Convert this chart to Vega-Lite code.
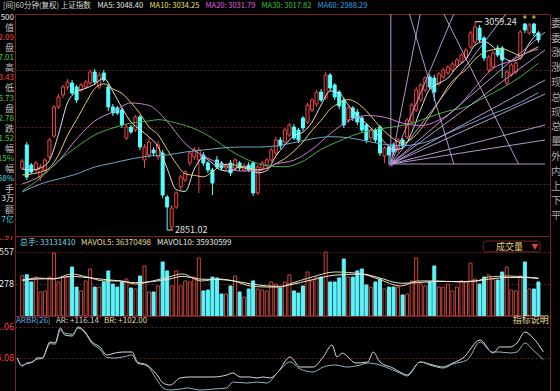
{
"$schema":"https://vega.github.io/schema/vega-lite/v6.json",
"background":"#000000",
"padding":0,
"spacing":0,
"bounds":"flush",
"columns":3,
"config":{"view":{"stroke":"#7a1f1f","strokeWidth":1},"font":"Noto Sans CJK SC","concat":{"spacing":0}},
"resolve":{"scale":{"color":"independent","x":"independent","y":"independent"},"legend":{"color":"independent"}},
"datasets":{
"bars":[
{"i":-1,"o":2913,"c":2920,"h":2922,"l":2911,"v":351},
{"i":0,"o":2936,"c":2904,"h":2939,"l":2901,"v":359},
{"i":1,"o":2916,"c":2909,"h":2918,"l":2907,"v":296},
{"i":2,"o":2911,"c":2918,"h":2920,"l":2908,"v":339},
{"i":3,"o":2904,"c":2914,"h":2917,"l":2900,"v":209},
{"i":4,"o":2911,"c":2921,"h":2923,"l":2909,"v":218},
{"i":5,"o":2924,"c":2941,"h":2943,"l":2922,"v":339},
{"i":6,"o":2945,"c":2974,"h":2976,"l":2943,"v":548},
{"i":7,"o":2974,"c":2984,"h":2987,"l":2972,"v":296},
{"i":8,"o":2986,"c":2994,"h":2996,"l":2983,"v":339},
{"i":9,"o":2994,"c":2999,"h":3002,"l":2991,"v":339},
{"i":10,"o":2998,"c":2988,"h":3001,"l":2986,"v":426},
{"i":11,"o":2994,"c":2981,"h":2996,"l":2978,"v":252},
{"i":12,"o":2991,"c":2996,"h":2998,"l":2989,"v":218},
{"i":13,"o":2994,"c":2999,"h":3001,"l":2992,"v":305},
{"i":14,"o":2998,"c":3009,"h":3011,"l":2996,"v":409},
{"i":15,"o":3009,"c":2999,"h":3012,"l":2996,"v":252},
{"i":16,"o":2994,"c":3006,"h":3009,"l":2992,"v":252},
{"i":17,"o":3008,"c":3001,"h":3011,"l":2999,"v":296},
{"i":18,"o":2994,"c":2974,"h":2997,"l":2970,"v":392},
{"i":19,"o":2974,"c":2968,"h":2977,"l":2965,"v":278},
{"i":20,"o":2973,"c":2968,"h":2975,"l":2966,"v":252},
{"i":21,"o":2971,"c":2956,"h":2973,"l":2953,"v":296},
{"i":22,"o":2943,"c":2954,"h":2957,"l":2941,"v":322},
{"i":23,"o":2954,"c":2949,"h":2956,"l":2947,"v":244},
{"i":24,"o":2951,"c":2964,"h":2966,"l":2949,"v":235},
{"i":25,"o":2964,"c":2934,"h":2966,"l":2931,"v":348},
{"i":26,"o":2921,"c":2934,"h":2937,"l":2913,"v":435},
{"i":27,"o":2926,"c":2939,"h":2943,"l":2923,"v":209},
{"i":28,"o":2931,"c":2928,"h":2934,"l":2925,"v":209},
{"i":29,"o":2924,"c":2936,"h":2940,"l":2921,"v":261},
{"i":30,"o":2928,"c":2886,"h":2931,"l":2883,"v":470},
{"i":31,"o":2884,"c":2874,"h":2886,"l":2851.02,"v":392},
{"i":32,"o":2854,"c":2873,"h":2876,"l":2852,"v":261},
{"i":33,"o":2874,"c":2888,"h":2890,"l":2872,"v":392},
{"i":34,"o":2894,"c":2904,"h":2906,"l":2891,"v":261},
{"i":35,"o":2901,"c":2909,"h":2911,"l":2899,"v":305},
{"i":36,"o":2918,"c":2928,"h":2930,"l":2915,"v":296},
{"i":37,"o":2924,"c":2931,"h":2934,"l":2921,"v":339},
{"i":38,"o":2921,"c":2931,"h":2934,"l":2888,"v":505},
{"i":39,"o":2926,"c":2918,"h":2929,"l":2915,"v":218},
{"i":40,"o":2918,"c":2911,"h":2920,"l":2908,"v":226},
{"i":41,"o":2911,"c":2898,"h":2913,"l":2886,"v":339},
{"i":42,"o":2921,"c":2914,"h":2925,"l":2912,"v":331},
{"i":43,"o":2918,"c":2913,"h":2920,"l":2911,"v":191},
{"i":44,"o":2913,"c":2916,"h":2918,"l":2910,"v":191},
{"i":45,"o":2918,"c":2908,"h":2921,"l":2905,"v":261},
{"i":46,"o":2913,"c":2921,"h":2923,"l":2910,"v":348},
{"i":47,"o":2918,"c":2913,"h":2920,"l":2910,"v":209},
{"i":48,"o":2911,"c":2915,"h":2918,"l":2909,"v":165},
{"i":49,"o":2916,"c":2911,"h":2919,"l":2909,"v":235},
{"i":50,"o":2918,"c":2888,"h":2920,"l":2885,"v":305},
{"i":51,"o":2888,"c":2914,"h":2916,"l":2886,"v":235},
{"i":52,"o":2913,"c":2918,"h":2920,"l":2911,"v":226},
{"i":53,"o":2916,"c":2921,"h":2923,"l":2914,"v":218},
{"i":54,"o":2921,"c":2931,"h":2933,"l":2919,"v":296},
{"i":55,"o":2928,"c":2941,"h":2944,"l":2926,"v":278},
{"i":56,"o":2941,"c":2935,"h":2944,"l":2932,"v":244},
{"i":57,"o":2939,"c":2951,"h":2953,"l":2937,"v":296},
{"i":58,"o":2946,"c":2956,"h":2958,"l":2944,"v":357},
{"i":59,"o":2954,"c":2943,"h":2957,"l":2941,"v":218},
{"i":60,"o":2951,"c":2941,"h":2953,"l":2938,"v":200},
{"i":61,"o":2963,"c":2953,"h":2965,"l":2950,"v":261},
{"i":62,"o":2959,"c":2976,"h":2978,"l":2957,"v":383},
{"i":63,"o":2971,"c":2981,"h":2983,"l":2969,"v":305},
{"i":64,"o":2977,"c":2989,"h":2991,"l":2974,"v":339},
{"i":65,"o":2989,"c":2981,"h":2992,"l":2979,"v":339},
{"i":66,"o":2983,"c":3006,"h":3009,"l":2981,"v":557},
{"i":67,"o":3006,"c":2993,"h":3008,"l":2990,"v":296},
{"i":68,"o":2996,"c":2984,"h":2998,"l":2981,"v":296},
{"i":69,"o":2989,"c":2975,"h":2991,"l":2972,"v":331},
{"i":70,"o":2981,"c":2956,"h":2983,"l":2953,"v":496},
{"i":71,"o":2961,"c":2973,"h":2975,"l":2958,"v":339},
{"i":72,"o":2973,"c":2963,"h":2975,"l":2960,"v":339},
{"i":73,"o":2969,"c":2959,"h":2972,"l":2956,"v":392},
{"i":74,"o":2963,"c":2951,"h":2965,"l":2948,"v":409},
{"i":75,"o":2956,"c":2941,"h":2958,"l":2938,"v":270},
{"i":76,"o":2943,"c":2951,"h":2953,"l":2940,"v":252},
{"i":77,"o":2951,"c":2941,"h":2953,"l":2938,"v":296},
{"i":78,"o":2954,"c":2928,"h":2956,"l":2925,"v":322},
{"i":79,"o":2925,"c":2933,"h":2935,"l":2918,"v":235},
{"i":80,"o":2934,"c":2926,"h":2936,"l":2917,"v":252},
{"i":81,"o":2936,"c":2929,"h":2938,"l":2926,"v":252},
{"i":82,"o":2931,"c":2941,"h":2943,"l":2928,"v":252},
{"i":83,"o":2941,"c":2935,"h":2943,"l":2932,"v":183},
{"i":84,"o":2944,"c":2961,"h":2963,"l":2942,"v":191},
{"i":85,"o":2959,"c":2976,"h":2978,"l":2957,"v":305},
{"i":86,"o":2971,"c":2991,"h":2994,"l":2969,"v":505},
{"i":87,"o":2981,"c":2996,"h":2998,"l":2979,"v":278},
{"i":88,"o":2991,"c":3003,"h":3005,"l":2989,"v":261},
{"i":89,"o":3004,"c":2994,"h":3007,"l":2991,"v":296},
{"i":90,"o":3003,"c":2989,"h":3006,"l":2980,"v":435},
{"i":91,"o":2997,"c":3007,"h":3009,"l":2995,"v":252},
{"i":92,"o":3004,"c":3011,"h":3013,"l":3002,"v":252},
{"i":93,"o":3008,"c":3014,"h":3016,"l":3006,"v":278},
{"i":94,"o":3011,"c":3017,"h":3019,"l":3009,"v":218},
{"i":95,"o":3015,"c":3021,"h":3023,"l":3013,"v":252},
{"i":96,"o":3019,"c":3026,"h":3028,"l":3017,"v":305},
{"i":97,"o":3023,"c":3031,"h":3033,"l":3021,"v":296},
{"i":98,"o":3034,"c":3048,"h":3050,"l":3032,"v":461},
{"i":99,"o":3039,"c":3054,"h":3059.24,"l":3036,"v":322},
{"i":100,"o":3053,"c":3041,"h":3056,"l":3039,"v":278},
{"i":101,"o":3043,"c":3023,"h":3045,"l":3020,"v":339},
{"i":102,"o":3011,"c":3024,"h":3026,"l":3009,"v":357},
{"i":103,"o":3014,"c":3028,"h":3030,"l":3012,"v":322},
{"i":104,"o":3033,"c":3026,"h":3036,"l":3024,"v":313},
{"i":105,"o":3033,"c":3021,"h":3035,"l":3003,"v":383},
{"i":106,"o":2998,"c":3009,"h":3011,"l":2996,"v":426},
{"i":107,"o":3006,"c":3016,"h":3018,"l":3004,"v":226},
{"i":108,"o":3009,"c":3018,"h":3020,"l":3007,"v":218},
{"i":109,"o":3023,"c":3049,"h":3051,"l":3021,"v":348},
{"i":110,"o":3057,"c":3051,"h":3058,"l":3048,"v":470},
{"i":111,"o":3048,"c":3056,"h":3058,"l":3046,"v":235},
{"i":112,"o":3057,"c":3048,"h":3058,"l":3045,"v":235},
{"i":113,"o":3048,"c":3041,"h":3050,"l":3038,"v":296}
],
"ma":[
{"ma":"MA5","i":-1,"p":2912},{"ma":"MA5","i":1,"p":2911},{"ma":"MA5","i":3,"p":2913},{"ma":"MA5","i":5,"p":2920.6},{"ma":"MA5","i":7,"p":2946.8},{"ma":"MA5","i":9,"p":2978.4},{"ma":"MA5","i":11,"p":2989.2},{"ma":"MA5","i":13,"p":2992.6},{"ma":"MA5","i":15,"p":2996.8},{"ma":"MA5","i":17,"p":3002.8},{"ma":"MA5","i":19,"p":2989.6},{"ma":"MA5","i":21,"p":2973.4},{"ma":"MA5","i":23,"p":2959},{"ma":"MA5","i":25,"p":2951.4},{"ma":"MA5","i":27,"p":2944},{"ma":"MA5","i":29,"p":2934.2},{"ma":"MA5","i":31,"p":2912.6},{"ma":"MA5","i":33,"p":2891.4},{"ma":"MA5","i":35,"p":2889.6},{"ma":"MA5","i":37,"p":2912},{"ma":"MA5","i":39,"p":2923.4},{"ma":"MA5","i":41,"p":2917.8},{"ma":"MA5","i":43,"p":2910.8},{"ma":"MA5","i":45,"p":2909.8},{"ma":"MA5","i":47,"p":2914.2},{"ma":"MA5","i":49,"p":2913.6},{"ma":"MA5","i":51,"p":2908.2},{"ma":"MA5","i":53,"p":2910.4},{"ma":"MA5","i":55,"p":2925},{"ma":"MA5","i":57,"p":2935.8},{"ma":"MA5","i":59,"p":2945.2},{"ma":"MA5","i":61,"p":2948.8},{"ma":"MA5","i":63,"p":2958.8},{"ma":"MA5","i":65,"p":2976},{"ma":"MA5","i":67,"p":2990},{"ma":"MA5","i":69,"p":2987.8},{"ma":"MA5","i":71,"p":2976.2},{"ma":"MA5","i":73,"p":2965.2},{"ma":"MA5","i":75,"p":2957.4},{"ma":"MA5","i":77,"p":2948.6},{"ma":"MA5","i":79,"p":2938.8},{"ma":"MA5","i":81,"p":2931.4},{"ma":"MA5","i":83,"p":2932.8},{"ma":"MA5","i":85,"p":2948.4},{"ma":"MA5","i":87,"p":2971.8},{"ma":"MA5","i":89,"p":2992},{"ma":"MA5","i":91,"p":2997.8},{"ma":"MA5","i":93,"p":3003},{"ma":"MA5","i":95,"p":3014},{"ma":"MA5","i":97,"p":3021.8},{"ma":"MA5","i":99,"p":3036},{"ma":"MA5","i":101,"p":3039.4},{"ma":"MA5","i":103,"p":3034},{"ma":"MA5","i":105,"p":3024.4},{"ma":"MA5","i":107,"p":3020},{"ma":"MA5","i":109,"p":3022.6},{"ma":"MA5","i":111,"p":3038},{"ma":"MA5","i":113,"p":3048.4},
{"ma":"MA10","i":-1,"p":2906},{"ma":"MA10","i":1,"p":2907},{"ma":"MA10","i":3,"p":2909},{"ma":"MA10","i":5,"p":2913},{"ma":"MA10","i":7,"p":2926},{"ma":"MA10","i":9,"p":2945.8},{"ma":"MA10","i":11,"p":2961.4},{"ma":"MA10","i":13,"p":2977.7},{"ma":"MA10","i":15,"p":2992.3},{"ma":"MA10","i":17,"p":2997.2},{"ma":"MA10","i":19,"p":2992.1},{"ma":"MA10","i":21,"p":2987.6},{"ma":"MA10","i":23,"p":2978.4},{"ma":"MA10","i":25,"p":2967.4},{"ma":"MA10","i":27,"p":2954},{"ma":"MA10","i":29,"p":2946.2},{"ma":"MA10","i":31,"p":2931.6},{"ma":"MA10","i":33,"p":2917.6},{"ma":"MA10","i":35,"p":2907.1},{"ma":"MA10","i":37,"p":2905.7},{"ma":"MA10","i":39,"p":2904.2},{"ma":"MA10","i":41,"p":2909.1},{"ma":"MA10","i":43,"p":2915.7},{"ma":"MA10","i":45,"p":2916.8},{"ma":"MA10","i":47,"p":2914.3},{"ma":"MA10","i":49,"p":2912},{"ma":"MA10","i":51,"p":2911.3},{"ma":"MA10","i":53,"p":2912.5},{"ma":"MA10","i":55,"p":2917.3},{"ma":"MA10","i":57,"p":2922.5},{"ma":"MA10","i":59,"p":2929.8},{"ma":"MA10","i":61,"p":2939},{"ma":"MA10","i":63,"p":2950.8},{"ma":"MA10","i":65,"p":2960.6},{"ma":"MA10","i":67,"p":2971.9},{"ma":"MA10","i":69,"p":2977.9},{"ma":"MA10","i":71,"p":2981.4},{"ma":"MA10","i":73,"p":2977.9},{"ma":"MA10","i":75,"p":2970.1},{"ma":"MA10","i":77,"p":2959.4},{"ma":"MA10","i":79,"p":2949.6},{"ma":"MA10","i":81,"p":2942.2},{"ma":"MA10","i":83,"p":2937.6},{"ma":"MA10","i":85,"p":2942.1},{"ma":"MA10","i":87,"p":2951.6},{"ma":"MA10","i":89,"p":2965.2},{"ma":"MA10","i":91,"p":2979.3},{"ma":"MA10","i":93,"p":2994.2},{"ma":"MA10","i":95,"p":3004.3},{"ma":"MA10","i":97,"p":3011.3},{"ma":"MA10","i":99,"p":3021.8},{"ma":"MA10","i":101,"p":3028.6},{"ma":"MA10","i":103,"p":3031.3},{"ma":"MA10","i":105,"p":3032.2},{"ma":"MA10","i":107,"p":3029},{"ma":"MA10","i":109,"p":3025.5},{"ma":"MA10","i":111,"p":3029.8},{"ma":"MA10","i":113,"p":3034.25},
{"ma":"MA20","i":-1,"p":2897},{"ma":"MA20","i":3,"p":2905},{"ma":"MA20","i":7,"p":2920},{"ma":"MA20","i":11,"p":2942},{"ma":"MA20","i":15,"p":2960},{"ma":"MA20","i":19,"p":2969},{"ma":"MA20","i":23,"p":2978},{"ma":"MA20","i":27,"p":2975.6},{"ma":"MA20","i":31,"p":2959.6},{"ma":"MA20","i":35,"p":2937.3},{"ma":"MA20","i":39,"p":2925.2},{"ma":"MA20","i":43,"p":2916.7},{"ma":"MA20","i":47,"p":2910},{"ma":"MA20","i":51,"p":2910.2},{"ma":"MA20","i":55,"p":2917},{"ma":"MA20","i":59,"p":2920.9},{"ma":"MA20","i":63,"p":2931.7},{"ma":"MA20","i":67,"p":2947.2},{"ma":"MA20","i":71,"p":2960.2},{"ma":"MA20","i":75,"p":2965.4},{"ma":"MA20","i":79,"p":2963.8},{"ma":"MA20","i":83,"p":2957.8},{"ma":"MA20","i":87,"p":2955.5},{"ma":"MA20","i":91,"p":2960.8},{"ma":"MA20","i":95,"p":2973.2},{"ma":"MA20","i":99,"p":2993.5},{"ma":"MA20","i":103,"p":3012.8},{"ma":"MA20","i":107,"p":3020.2},{"ma":"MA20","i":111,"p":3029.2},{"ma":"MA20","i":113,"p":3031.79},
{"ma":"MA30","i":-1,"p":2890},{"ma":"MA30","i":3,"p":2903},{"ma":"MA30","i":7,"p":2920},{"ma":"MA30","i":11,"p":2934},{"ma":"MA30","i":15,"p":2946},{"ma":"MA30","i":19,"p":2953},{"ma":"MA30","i":23,"p":2958},{"ma":"MA30","i":27,"p":2960},{"ma":"MA30","i":29,"p":2961.4},{"ma":"MA30","i":33,"p":2957.9},{"ma":"MA30","i":37,"p":2952.3},{"ma":"MA30","i":41,"p":2942.8},{"ma":"MA30","i":45,"p":2930.4},{"ma":"MA30","i":49,"p":2920.8},{"ma":"MA30","i":53,"p":2915.3},{"ma":"MA30","i":57,"p":2914.2},{"ma":"MA30","i":61,"p":2919.8},{"ma":"MA30","i":65,"p":2931.6},{"ma":"MA30","i":69,"p":2939.9},{"ma":"MA30","i":73,"p":2947.1},{"ma":"MA30","i":77,"p":2951.3},{"ma":"MA30","i":81,"p":2954.2},{"ma":"MA30","i":85,"p":2957.6},{"ma":"MA30","i":89,"p":2964.2},{"ma":"MA30","i":93,"p":2969.9},{"ma":"MA30","i":97,"p":2974.1},{"ma":"MA30","i":101,"p":2983.4},{"ma":"MA30","i":105,"p":2992.9},{"ma":"MA30","i":109,"p":3004.2},{"ma":"MA30","i":113,"p":3017.82},
{"ma":"MA60","i":-1,"p":2889},{"ma":"MA60","i":3,"p":2897},{"ma":"MA60","i":7,"p":2902},{"ma":"MA60","i":11,"p":2907},{"ma":"MA60","i":15,"p":2914},{"ma":"MA60","i":19,"p":2918},{"ma":"MA60","i":23,"p":2922},{"ma":"MA60","i":27,"p":2925},{"ma":"MA60","i":31,"p":2926},{"ma":"MA60","i":35,"p":2929},{"ma":"MA60","i":39,"p":2931},{"ma":"MA60","i":43,"p":2933},{"ma":"MA60","i":47,"p":2934},{"ma":"MA60","i":51,"p":2934},{"ma":"MA60","i":55,"p":2935},{"ma":"MA60","i":59,"p":2938.4},{"ma":"MA60","i":63,"p":2942.1},{"ma":"MA60","i":67,"p":2944.3},{"ma":"MA60","i":71,"p":2943.3},{"ma":"MA60","i":75,"p":2939.9},{"ma":"MA60","i":79,"p":2936.6},{"ma":"MA60","i":83,"p":2935.4},{"ma":"MA60","i":87,"p":2937.6},{"ma":"MA60","i":91,"p":2943.7},{"ma":"MA60","i":95,"p":2951.9},{"ma":"MA60","i":99,"p":2959.4},{"ma":"MA60","i":103,"p":2967.4},{"ma":"MA60","i":107,"p":2974.3},{"ma":"MA60","i":111,"p":2983.4},{"ma":"MA60","i":113,"p":2988.29}
],
"vma":[
{"s":"MAVOL5","i":-1,"v":305},{"s":"MAVOL5","i":2.4,"v":331},{"s":"MAVOL5","i":6,"v":322},{"s":"MAVOL5","i":9.8,"v":366},{"s":"MAVOL5","i":13.3,"v":340},{"s":"MAVOL5","i":17,"v":305},{"s":"MAVOL5","i":20.6,"v":305},{"s":"MAVOL5","i":24,"v":278},{"s":"MAVOL5","i":27.8,"v":305},{"s":"MAVOL5","i":31.4,"v":339},{"s":"MAVOL5","i":34.3,"v":366},{"s":"MAVOL5","i":38.6,"v":305},{"s":"MAVOL5","i":42.3,"v":322},{"s":"MAVOL5","i":45.7,"v":305},{"s":"MAVOL5","i":49.4,"v":261},{"s":"MAVOL5","i":53,"v":252},{"s":"MAVOL5","i":56,"v":252},{"s":"MAVOL5","i":58,"v":278},{"s":"MAVOL5","i":63,"v":339},{"s":"MAVOL5","i":68,"v":383},{"s":"MAVOL5","i":74,"v":366},{"s":"MAVOL5","i":77.6,"v":322},{"s":"MAVOL5","i":82.6,"v":261},{"s":"MAVOL5","i":86.3,"v":305},{"s":"MAVOL5","i":90.6,"v":305},{"s":"MAVOL5","i":95.6,"v":296},{"s":"MAVOL5","i":99.3,"v":305},{"s":"MAVOL5","i":102,"v":339},{"s":"MAVOL5","i":106.4,"v":348},{"s":"MAVOL5","i":110,"v":339},{"s":"MAVOL5","i":113,"v":330},
{"s":"MAVOL10","i":-1,"v":315},{"s":"MAVOL10","i":2.4,"v":322},{"s":"MAVOL10","i":6,"v":325},{"s":"MAVOL10","i":9.8,"v":345},{"s":"MAVOL10","i":13.3,"v":335},{"s":"MAVOL10","i":17,"v":318},{"s":"MAVOL10","i":20.6,"v":305},{"s":"MAVOL10","i":24,"v":290},{"s":"MAVOL10","i":27.8,"v":300},{"s":"MAVOL10","i":31.4,"v":320},{"s":"MAVOL10","i":34.3,"v":345},{"s":"MAVOL10","i":38.6,"v":320},{"s":"MAVOL10","i":42.3,"v":318},{"s":"MAVOL10","i":45.7,"v":305},{"s":"MAVOL10","i":49.4,"v":280},{"s":"MAVOL10","i":53,"v":262},{"s":"MAVOL10","i":56,"v":258},{"s":"MAVOL10","i":58,"v":270},{"s":"MAVOL10","i":63,"v":315},{"s":"MAVOL10","i":68,"v":355},{"s":"MAVOL10","i":74,"v":365},{"s":"MAVOL10","i":77.6,"v":335},{"s":"MAVOL10","i":82.6,"v":285},{"s":"MAVOL10","i":86.3,"v":290},{"s":"MAVOL10","i":90.6,"v":300},{"s":"MAVOL10","i":95.6,"v":300},{"s":"MAVOL10","i":99.3,"v":305},{"s":"MAVOL10","i":102,"v":320},{"s":"MAVOL10","i":106.4,"v":335},{"s":"MAVOL10","i":110,"v":335},{"s":"MAVOL10","i":113,"v":325}
],
"arbr":[
{"s":"AR","i":-1,"v":105.1},{"s":"AR","i":0,"v":90.6},{"s":"AR","i":1.1,"v":96},{"s":"AR","i":2.2,"v":97.9},{"s":"AR","i":3.3,"v":105.1},{"s":"AR","i":4.4,"v":105.1},{"s":"AR","i":6.1,"v":134},{"s":"AR","i":7.2,"v":132.2},{"s":"AR","i":8.3,"v":159.3},{"s":"AR","i":9.3,"v":146.6},{"s":"AR","i":10.9,"v":144.8},{"s":"AR","i":12.2,"v":161.1},{"s":"AR","i":13.7,"v":152},{"s":"AR","i":15.2,"v":134},{"s":"AR","i":16.9,"v":125},{"s":"AR","i":18.4,"v":110.5},{"s":"AR","i":20.2,"v":114.1},{"s":"AR","i":21.9,"v":115.9},{"s":"AR","i":23.9,"v":115.9},{"s":"AR","i":25,"v":97.9},{"s":"AR","i":27.1,"v":92.4},{"s":"AR","i":29.3,"v":74.4},{"s":"AR","i":30.6,"v":59.9},{"s":"AR","i":32.1,"v":56.3},{"s":"AR","i":34.3,"v":69},{"s":"AR","i":36.4,"v":70.8},{"s":"AR","i":38.6,"v":70.8},{"s":"AR","i":41.4,"v":70.8},{"s":"AR","i":44.4,"v":74.4},{"s":"AR","i":45.7,"v":78},{"s":"AR","i":47.3,"v":70.8},{"s":"AR","i":49.4,"v":70.8},{"s":"AR","i":51,"v":69},{"s":"AR","i":52.3,"v":70.8},{"s":"AR","i":53.8,"v":69},{"s":"AR","i":55.5,"v":79.8},{"s":"AR","i":58.1,"v":106.9},{"s":"AR","i":60.3,"v":88.8},{"s":"AR","i":63.1,"v":88.8},{"s":"AR","i":65.3,"v":106.9},{"s":"AR","i":67.2,"v":128.6},{"s":"AR","i":68.3,"v":106.9},{"s":"AR","i":69.4,"v":114.1},{"s":"AR","i":70.7,"v":106.9},{"s":"AR","i":72.2,"v":96.1},{"s":"AR","i":75,"v":97.9},{"s":"AR","i":76.1,"v":115.9},{"s":"AR","i":77.6,"v":97.9},{"s":"AR","i":80.4,"v":87},{"s":"AR","i":81.9,"v":79.8},{"s":"AR","i":83.5,"v":74.4},{"s":"AR","i":86.3,"v":97.9},{"s":"AR","i":89.1,"v":92.4},{"s":"AR","i":91.3,"v":88.8},{"s":"AR","i":93.4,"v":96.1},{"s":"AR","i":95.6,"v":105.1},{"s":"AR","i":99.3,"v":137.6},{"s":"AR","i":102.1,"v":114.1},{"s":"AR","i":103.6,"v":125},{"s":"AR","i":105.8,"v":125},{"s":"AR","i":107.3,"v":132.2},{"s":"AR","i":109,"v":152},{"s":"AR","i":110.8,"v":141.2},{"s":"AR","i":113,"v":116.14},
{"s":"BR","i":-1,"v":104},{"s":"BR","i":0,"v":92},{"s":"BR","i":1.1,"v":95},{"s":"BR","i":2.2,"v":97},{"s":"BR","i":3.3,"v":103},{"s":"BR","i":4.4,"v":104},{"s":"BR","i":6.1,"v":131},{"s":"BR","i":7.2,"v":130},{"s":"BR","i":8.3,"v":155},{"s":"BR","i":9.3,"v":150},{"s":"BR","i":10.9,"v":148},{"s":"BR","i":12.2,"v":159},{"s":"BR","i":13.7,"v":150},{"s":"BR","i":15.2,"v":131},{"s":"BR","i":16.9,"v":121},{"s":"BR","i":18.4,"v":106},{"s":"BR","i":20.2,"v":105},{"s":"BR","i":21.9,"v":107},{"s":"BR","i":23.9,"v":110.5},{"s":"BR","i":25,"v":96},{"s":"BR","i":27.1,"v":91},{"s":"BR","i":29.3,"v":65.4},{"s":"BR","i":30.6,"v":51},{"s":"BR","i":32.1,"v":47.3},{"s":"BR","i":34.3,"v":49},{"s":"BR","i":35.8,"v":51},{"s":"BR","i":38.6,"v":47.3},{"s":"BR","i":41.4,"v":49},{"s":"BR","i":44.4,"v":51},{"s":"BR","i":45.7,"v":61.7},{"s":"BR","i":48.8,"v":59.9},{"s":"BR","i":51,"v":61.7},{"s":"BR","i":53.1,"v":59.9},{"s":"BR","i":55.5,"v":79.8},{"s":"BR","i":58.1,"v":98},{"s":"BR","i":60.3,"v":85.2},{"s":"BR","i":63.1,"v":79.8},{"s":"BR","i":65.3,"v":88.8},{"s":"BR","i":67.9,"v":92.4},{"s":"BR","i":70.5,"v":88.8},{"s":"BR","i":73.3,"v":92.4},{"s":"BR","i":75,"v":96.1},{"s":"BR","i":77.6,"v":92.4},{"s":"BR","i":80.4,"v":83.4},{"s":"BR","i":81.9,"v":78},{"s":"BR","i":83.5,"v":72.6},{"s":"BR","i":86.3,"v":97.9},{"s":"BR","i":89.1,"v":90.6},{"s":"BR","i":91.3,"v":87},{"s":"BR","i":93.4,"v":94.2},{"s":"BR","i":96.5,"v":101.5},{"s":"BR","i":99.3,"v":134},{"s":"BR","i":101.9,"v":115.9},{"s":"BR","i":103.6,"v":115.9},{"s":"BR","i":105.8,"v":114.1},{"s":"BR","i":107.3,"v":115.9},{"s":"BR","i":109,"v":132.2},{"s":"BR","i":110.8,"v":119.5},{"s":"BR","i":113,"v":102}
],
"fan":[
{"a":80.4,"p1":2917,"b":80.4,"p2":3067},
{"a":80.4,"p1":2917,"b":86.9,"p2":3067},
{"a":80.4,"p1":2917,"b":94.3,"p2":3067},
{"a":80.4,"p1":2917,"b":105.8,"p2":3067},
{"a":80.4,"p1":2917,"b":114.45,"p2":3049},
{"a":80.4,"p1":2917,"b":114.45,"p2":3031},
{"a":80.4,"p1":2917,"b":114.45,"p2":3001},
{"a":80.4,"p1":2917,"b":114.45,"p2":2987},
{"a":80.4,"p1":2917,"b":114.45,"p2":2956},
{"a":80.4,"p1":2917,"b":114.45,"p2":2941},
{"a":80.4,"p1":2917,"b":114.45,"p2":2917},
{"a":84.5,"p1":3067,"b":94.3,"p2":2917},
{"a":92.1,"p1":3067,"b":108.6,"p2":2917}
],
"peaks":[
{"i":31,"i2":32.3,"p":2851.02,"t":"2851.02"},
{"i":99,"i2":100.6,"p":3059.24,"t":"3059.24"}
],
"dots":[{"i":110,"p":3064},{"i":112,"p":3064}],
"info":[
{"k":0,"t":"500","kind":"w"},{"k":1,"t":"值","kind":"lbl"},{"k":2,"t":"2.09","kind":"up"},{"k":3,"t":"盘","kind":"lbl"},{"k":4,"t":"7.01","kind":"dn"},{"k":5,"t":"高","kind":"lbl"},{"k":6,"t":"3.43","kind":"up"},{"k":7,"t":"低","kind":"lbl"},{"k":8,"t":"5.73","kind":"dn"},{"k":9,"t":"盘","kind":"lbl"},{"k":10,"t":"2.78","kind":"dn"},{"k":11,"t":"跌","kind":"lbl"},{"k":12,"t":"1.52","kind":"dn"},{"k":13,"t":"幅","kind":"lbl"},{"k":14,"t":"15%","kind":"dn"},{"k":15,"t":"幅","kind":"lbl"},{"k":16,"t":"58%","kind":"cy"},{"k":17,"t":"手","kind":"lbl"},{"k":18,"t":"3万","kind":"w"},{"k":19,"t":"额","kind":"lbl"},{"k":20,"t":"7亿","kind":"cy"}
],
"side":[
{"k":0,"t":"委"},{"k":1,"t":"委"},{"k":2,"t":"涨"},{"k":3,"t":"涨"},{"k":4,"t":"现"},{"k":5,"t":"总"},{"k":6,"t":"现"},{"k":7,"t":"总"},{"k":8,"t":"量"},{"k":9,"t":"外"},{"k":10,"t":"内"},{"k":11,"t":"上"},{"k":12,"t":"下"},{"k":13,"t":"平"}
],
"vlab":[{"v":557,"t":"557","kind":"w"},{"v":278,"t":"278","kind":"w"},{"v":684,"t":"1.97","kind":"up"}],
"alab":[{"v":161.06,"t":"1.06","kind":"up"},{"v":105.08,"t":"5.08","kind":"up"}]
},
"concat":[
 {"width":15,"height":222,"view":{"stroke":null},"data":{"name":"info"},
  "mark":{"type":"text","align":"right","baseline":"middle","clip":true,"dx":-1},
  "encoding":{
   "x":{"datum":1,"type":"quantitative","scale":{"domain":[0,1]},"axis":null},
   "y":{"field":"k","type":"ordinal","scale":{"type":"point","padding":1.33,"align":0.19},"axis":null},
   "text":{"field":"t"},
   "size":{"condition":{"test":"datum.kind == 'lbl'","value":9},"value":8},
   "color":{"field":"kind","type":"nominal","scale":{"domain":["lbl","w","up","dn","cy"],"range":["#c4c4c4","#e8e8e8","#ff4040","#3cd23c","#3cd6e6"]},"legend":null}}},
 {"width":535,"height":222,
  "layer":[
   {"data":{"name":"bars"},"mark":{"type":"rule","strokeWidth":1},
    "encoding":{
     "x":{"field":"i","type":"quantitative","scale":{"domain":[-1.5,114.45],"nice":false,"zero":false},"axis":null},
     "y":{"field":"l","type":"quantitative","scale":{"domain":[2845,3067],"nice":false,"zero":false},"axis":{"values":[2897,2954,3011],"grid":true,"labels":false,"ticks":false,"domain":false,"title":null,"gridColor":"#6e1c1c","gridDash":[2,2]}},
     "y2":{"field":"h"},
     "color":{"condition":{"test":"datum.c >= datum.o","value":"#f04444"},"value":"#54ffff"}}},
   {"data":{"name":"bars"},"mark":{"type":"bar","size":3,"strokeWidth":1,"orient":"vertical"},
    "encoding":{
     "x":{"field":"i","type":"quantitative"},
     "y":{"field":"o","type":"quantitative"},
     "y2":{"field":"c"},
     "fill":{"condition":{"test":"datum.c >= datum.o","value":"#000000"},"value":"#54ffff"},
     "stroke":{"condition":{"test":"datum.c >= datum.o","value":"#f04444"},"value":"#54ffff"}}},
   {"data":{"name":"ma"},"mark":{"type":"line","strokeWidth":1,"interpolate":"monotone"},
    "encoding":{
     "x":{"field":"i","type":"quantitative"},
     "y":{"field":"p","type":"quantitative"},
     "color":{"field":"ma","type":"nominal",
      "scale":{"domain":["MA5","MA10","MA20","MA30","MA60"],"range":["#e4e4e4","#e2cc6a","#d47cd4","#46b046","#6aa8cc"]},
      "legend":{"orient":"none","legendX":-13,"legendY":-13,"direction":"horizontal","padding":1,
       "title":"[间]60分钟(复权)  上证指数","titleOrient":"left","titleColor":"#d8d8d8","titleFontSize":7.5,"titleFontWeight":"normal","titlePadding":3,"titleBaseline":"middle",
       "labelFontSize":7.5,"labelColor":"#e8e8e8","labelOffset":-6,"columnPadding":4,
       "symbolSize":1,"symbolOpacity":0,"symbolStrokeWidth":0,
       "labelExpr":"datum.label == 'MA5' ? 'MA5: 3048.40' : datum.label == 'MA10' ? 'MA10: 3034.25' : datum.label == 'MA20' ? 'MA20: 3031.79' : datum.label == 'MA30' ? 'MA30: 3017.82' : 'MA60: 2988.29'",
       "encode":{"labels":{"update":{"fill":{"signal":"datum.value == 'MA10' ? '#ece05c' : datum.value == 'MA20' ? '#e25ce2' : datum.value == 'MA30' ? '#3cc43c' : datum.value == 'MA60' ? '#3aa6e2' : '#e8e8e8'"}}}}}}}},
   {"data":{"name":"fan"},"mark":{"type":"rule","strokeWidth":1,"color":"#c8a6e6","opacity":0.9,"clip":true},
    "encoding":{
     "x":{"field":"a","type":"quantitative"},"x2":{"field":"b"},
     "y":{"field":"p1","type":"quantitative"},"y2":{"field":"p2"}}},
   {"data":{"values":[{"i":80.4,"p":2917}]},"mark":{"type":"point","shape":"square","filled":true,"size":20,"color":"#b070d0"},
    "encoding":{"x":{"field":"i","type":"quantitative"},"y":{"field":"p","type":"quantitative"}}},
   {"data":{"name":"peaks"},"mark":{"type":"rule","color":"#e0e0e0","strokeWidth":1},
    "encoding":{"x":{"field":"i","type":"quantitative"},"x2":{"field":"i2"},"y":{"field":"p","type":"quantitative"}}},
   {"data":{"name":"peaks"},"mark":{"type":"text","align":"left","baseline":"middle","dx":2,"fontSize":9,"color":"#e0e0e0"},
    "encoding":{"x":{"field":"i2","type":"quantitative"},"y":{"field":"p","type":"quantitative"},"text":{"field":"t"}}},
   {"data":{"name":"dots"},"mark":{"type":"point","filled":true,"size":12,"color":"#f0e040"},
    "encoding":{"x":{"field":"i","type":"quantitative"},"y":{"field":"p","type":"quantitative"}}}
  ]},
 {"width":10,"height":222,"view":{"stroke":null},"data":{"name":"side"},
  "mark":{"type":"text","align":"left","baseline":"middle","clip":true,"dx":1,"fontSize":10.5,"color":"#a8a8a8"},
  "encoding":{
   "x":{"datum":0,"type":"quantitative","scale":{"domain":[0,1]},"axis":null},
   "y":{"field":"k","type":"ordinal","scale":{"type":"point","padding":1.43,"align":0.33},"axis":null},
   "text":{"field":"t"}}},
 {"width":15,"height":80,"view":{"stroke":null},"data":{"name":"vlab"},
  "mark":{"type":"text","align":"right","baseline":"middle","clip":true,"dx":-1,"fontSize":9},
  "encoding":{
   "x":{"datum":1,"type":"quantitative","scale":{"domain":[0,1]},"axis":null},
   "y":{"field":"v","type":"quantitative","scale":{"domain":[0,696],"nice":false},"axis":null},
   "text":{"field":"t"},
   "color":{"field":"kind","type":"nominal","scale":{"domain":["lbl","w","up","dn","cy"],"range":["#c4c4c4","#e8e8e8","#ff4040","#3cd23c","#3cd6e6"]},"legend":null}}},
 {"width":535,"height":80,
  "layer":[
   {"data":{"name":"bars"},"mark":{"type":"bar","size":3,"strokeWidth":1,"orient":"vertical"},
    "encoding":{
     "x":{"field":"i","type":"quantitative","scale":{"domain":[-1.5,114.45],"nice":false,"zero":false},"axis":null},
     "y":{"field":"v","type":"quantitative","scale":{"domain":[0,696],"nice":false},"axis":{"values":[278,557],"grid":true,"labels":false,"ticks":false,"domain":false,"title":null,"gridColor":"#6e1c1c","gridDash":[2,2]}},
     "fill":{"condition":{"test":"datum.c >= datum.o","value":"#000000"},"value":"#5ef2fa"},
     "stroke":{"condition":{"test":"datum.c >= datum.o","value":"#c8463c"},"value":"#5ef2fa"}}},
   {"data":{"name":"vma"},"mark":{"type":"line","strokeWidth":1,"interpolate":"monotone"},
    "encoding":{
     "x":{"field":"i","type":"quantitative"},
     "y":{"field":"v","type":"quantitative"},
     "color":{"field":"s","type":"nominal","scale":{"domain":["总手","MAVOL5","MAVOL10"],"range":["#7fd6e6","#e6dc9c","#e8e8e8"]},
      "legend":{"orient":"top-left","offset":3,"direction":"horizontal","title":null,"padding":0,
       "labelFontSize":8,"labelColor":"#e8e8e8","labelOffset":-6,"columnPadding":3,
       "symbolSize":1,"symbolOpacity":0,"symbolStrokeWidth":0,
       "labelExpr":"datum.label == '总手' ? '总手: 33131410' : datum.label == 'MAVOL5' ? 'MAVOL5: 36370498' : 'MAVOL10: 35930599'",
       "encode":{"labels":{"update":{"fill":{"signal":"datum.value == '总手' ? '#7fd6e6' : datum.value == 'MAVOL5' ? '#e6dc9c' : '#e8e8e8'"}}}}}}}},
   {"data":{"values":[{}]},"mark":{"type":"rect","fill":null,"fillOpacity":0,"stroke":"#7a2222","strokeWidth":1,"cornerRadius":3},
    "encoding":{"x":{"datum":100.8,"type":"quantitative"},"x2":{"datum":113.4},"y":{"datum":557,"type":"quantitative"},"y2":{"datum":652}}},
   {"data":{"values":[{"t":"成交量"}]},"mark":{"type":"text","fontSize":9,"color":"#e6d27a","baseline":"middle"},
    "encoding":{"x":{"datum":106.6,"type":"quantitative"},"y":{"datum":604,"type":"quantitative"},"text":{"field":"t"}}},
   {"data":{"values":[{"t":"▼"}]},"mark":{"type":"text","fontSize":7,"color":"#e04040","baseline":"middle"},
    "encoding":{"x":{"datum":112.2,"type":"quantitative"},"y":{"datum":604,"type":"quantitative"},"text":{"field":"t"}}}
  ]},
 {"width":10,"height":80,"view":{"stroke":null},"data":{"values":[]},"mark":"point","encoding":{}},
 {"width":15,"height":75,"view":{"stroke":null},"data":{"name":"alab"},
  "mark":{"type":"text","align":"right","baseline":"middle","clip":true,"dx":-1,"fontSize":9},
  "encoding":{
   "x":{"datum":1,"type":"quantitative","scale":{"domain":[0,1]},"axis":null},
   "y":{"field":"v","type":"quantitative","scale":{"domain":[45.5,180.9],"nice":false,"zero":false},"axis":null},
   "text":{"field":"t"},
   "color":{"field":"kind","type":"nominal","scale":{"domain":["lbl","w","up","dn","cy"],"range":["#c4c4c4","#e8e8e8","#ff4040","#3cd23c","#3cd6e6"]},"legend":null}}},
 {"width":535,"height":75,
  "layer":[
   {"data":{"name":"arbr"},"mark":{"type":"line","strokeWidth":1,"interpolate":"monotone"},
    "encoding":{
     "x":{"field":"i","type":"quantitative","scale":{"domain":[-1.5,114.45],"nice":false,"zero":false},"axis":null},
     "y":{"field":"v","type":"quantitative","scale":{"domain":[45.5,180.9],"nice":false,"zero":false},"axis":{"values":[105.08,161.06],"grid":true,"labels":false,"ticks":false,"domain":false,"title":null,"gridColor":"#6e1c1c","gridDash":[2,2]}},
     "color":{"field":"s","type":"nominal","scale":{"domain":["AR","BR"],"range":["#dcdcdc","#8fb6c6"]},
      "legend":{"orient":"top-left","offset":1,"direction":"horizontal","padding":0,
       "title":"ARBR(26)","titleOrient":"left","titleColor":"#62aee0","titleFontSize":8,"titleFontWeight":"normal","titlePadding":3,"titleBaseline":"middle",
       "labelFontSize":8,"labelColor":"#dcdcdc","labelOffset":-6,"columnPadding":3,
       "symbolSize":1,"symbolOpacity":0,"symbolStrokeWidth":0,
       "labelExpr":"datum.label == 'AR' ? 'AR: +116.14' : 'BR: +102.00'",
       "encode":{"labels":{"update":{"fill":{"signal":"datum.value == 'AR' ? '#d4d4d4' : '#e6dc9c'"}}}}}}}},
   {"data":{"values":[{"t":"指标说明"}]},"mark":{"type":"text","fontSize":9,"color":"#e6d890","baseline":"middle"},
    "encoding":{"x":{"datum":110.3,"type":"quantitative"},"y":{"datum":173.7,"type":"quantitative"},"text":{"field":"t"}}}
  ]},
 {"width":10,"height":75,"view":{"stroke":null},"data":{"values":[]},"mark":"point","encoding":{}}
]
}
